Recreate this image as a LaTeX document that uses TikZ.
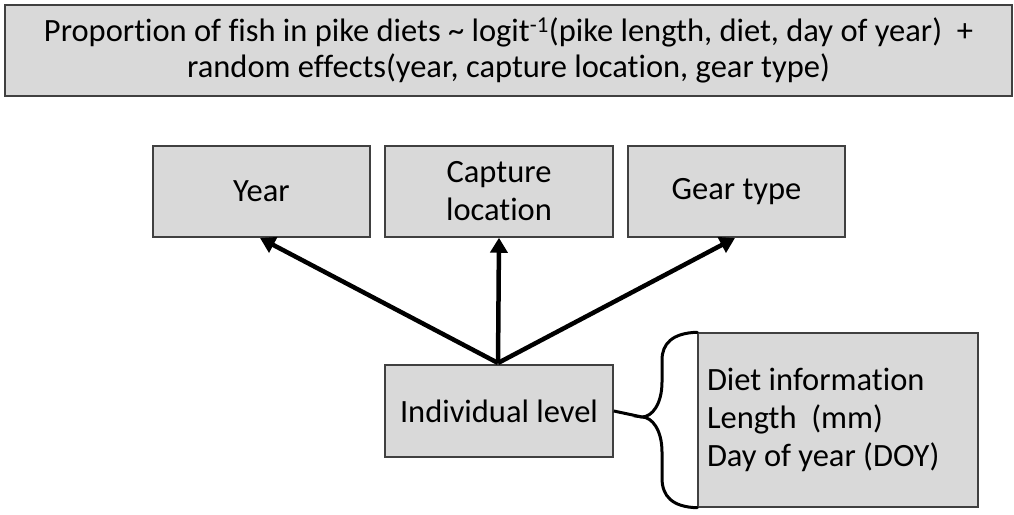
\documentclass[tikz,border=0pt]{standalone}
\usepackage{fontspec}
\setmainfont{Carlito}[Ligatures=NoCommon]
\usetikzlibrary{arrows.meta}
\definecolor{boxgray}{HTML}{D9D9D9}
\definecolor{edgegray}{HTML}{404040}

\begin{document}
\begin{tikzpicture}[x=1pt,y=1pt,
    every node/.style={font=\fontsize{32.5}{38}\selectfont},
    box/.style={draw=edgegray,line width=1.5pt,fill=boxgray,rectangle,inner sep=0pt,align=center},
    link/.style={line width=4.5pt,-{Triangle[length=15pt,width=17pt]}}]
        \useasboundingbox (0,0) rectangle (1014,514); % page size of the reference
        \node[box,minimum width=1007,minimum height=91,font=\fontsize{32.5}{36}\selectfont] (model) at (508.5,463.5)
        {Proportion of fish in pike diets \textasciitilde{} logit\textsuperscript{-1}(pike length, diet, day of year)~~+\\
        random effects(year, capture location, gear type)};
        \node[box,minimum width=217,minimum height=91] (year) at (261.5,322.5) {Year}; % random effects row
        \node[box,minimum width=228,minimum height=91] (loc) at (499,322.5) {Capture\\location};
        \node[box,minimum width=217,minimum height=91] (gear) at (736.5,322.5) {Gear type};
        \node[box,minimum width=228,minimum height=92] (ind) at (499,103) {Individual level};
        \node[box,text width=262,inner xsep=9,minimum height=174,align=flush left] (diet) at (838,94)
        {Diet information\\Length~~(mm)\\Day of year (DOY)};
        \coordinate (src) at (498,151); % all arrows leave from here
        \draw[link] (src) -- (260,276);
        \draw[link] (src) -- (loc.south);
        \draw[link] (src) -- (735,276);
        \coordinate (tip) at (642,97); % point of the brace
        \draw[line width=3pt] (ind.east) -- (tip);
        \draw[line width=3pt,line cap=round] (diet.north west) % brace round the diet box
        .. controls (672,181) and (662,170) .. (662,154)
        -- (662,132)
        .. controls (662,110) and (652,97) .. (tip)
        .. controls (652,97) and (662,84) .. (662,62)
        -- (662,36)
        .. controls (662,18) and (672,7) .. (diet.south west);
    \end{tikzpicture}
\end{document}
